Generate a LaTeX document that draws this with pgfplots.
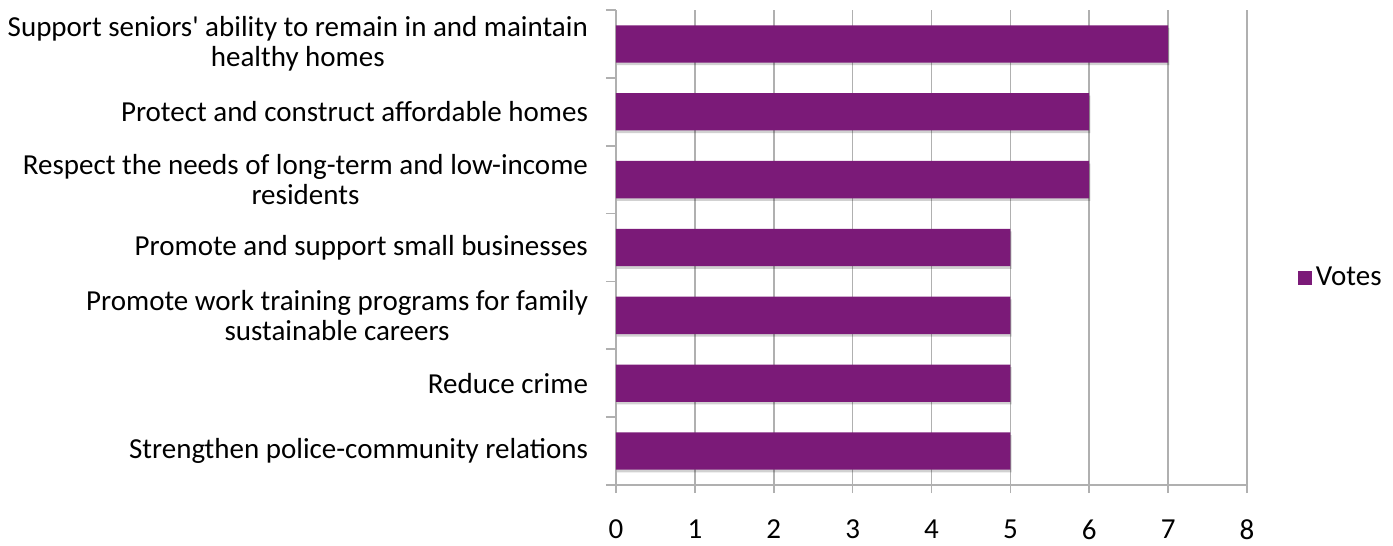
\documentclass[border=0pt]{standalone}
\usepackage{pgfplots}
\pgfplotsset{compat=1.18}
\usepackage{fontspec}
\setmainfont{Carlito}
\definecolor{barpurple}{HTML}{7B1A78}
\definecolor{gridgray}{HTML}{B0B0B0}
\begin{document}
\begin{tikzpicture}
\begin{axis}[
  at={(308pt,30.5pt)}, anchor=south west,
  scale only axis, width=315.5pt, height=237.5pt,
  xbar, bar width=0.55, bar shift=0pt,
  xmin=0, xmax=8, xtick={0,...,8},
  ymin=-0.5, ymax=6.5, y dir=reverse,
  ytick={0,...,6},
  yticklabels={{Support seniors\textquotesingle{} ability to remain in and maintain\\healthy homes},
    {Protect and construct affordable homes},
    {Respect the needs of long-term and low-income\\residents},
    {Promote and support small businesses},
    {Promote work training programs for family\\sustainable careers},
    {Reduce crime},
    {Strengthen police-community relations}},
  minor ytick={-0.5,0.5,...,6.5},
  axis x line*=bottom, axis y line*=left,
  axis line style={gridgray, line width=0.8pt, -},
  xmajorgrids, major grid style={gridgray, line width=0.8pt},
  tick align=outside,
  major tick length=4pt, minor tick length=5pt,
  major y tick style={draw=none},
  minor y tick style={gridgray, line width=0.8pt},
  major x tick style={gridgray, line width=0.8pt},
  /pgf/number format/assume math mode=true,
  tick label style={font=\fontsize{14.5}{15}\selectfont, text=black},
  yticklabel style={align=center, xshift=-6.5pt},
  xticklabel style={yshift=-10pt},
  legend style={at={(1.070,0.436)}, anchor=west, draw=none, fill=none,
    font=\fontsize{14.5}{15}\selectfont},
  legend image code/.code={\fill[barpurple] (0pt,-3.6pt) rectangle (7.2pt,3.6pt);},
]
\addplot[fill=black, opacity=0.18, draw=none, forget plot, xshift=0.6pt, yshift=-1.3pt]
  coordinates {(7,0) (6,1) (6,2) (5,3) (5,4) (5,5) (5,6)};
\addplot[fill=barpurple, draw=none]
  coordinates {(7,0) (6,1) (6,2) (5,3) (5,4) (5,5) (5,6)};
\addlegendentry{Votes}
\end{axis}
\pgfresetboundingbox
\path (0,0) rectangle (696.5pt,273pt);
\end{tikzpicture}
\end{document}
